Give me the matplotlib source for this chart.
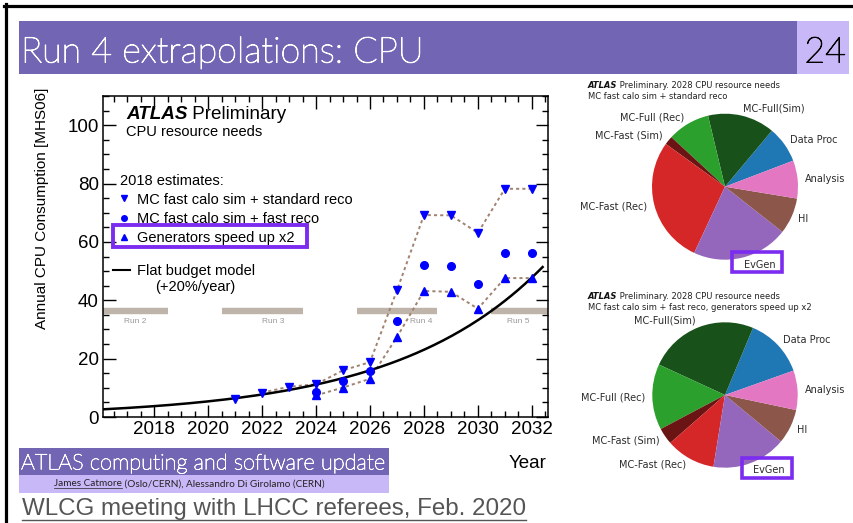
import numpy as np
import matplotlib
matplotlib.use('Agg')
import matplotlib.pyplot as plt
import matplotlib.patheffects as pe
from matplotlib.patches import Rectangle
from matplotlib.lines import Line2D
from matplotlib.ticker import MultipleLocator

# ---- data ----
years_std = [2021, 2022, 2023, 2024, 2025, 2026, 2027, 2028, 2029, 2030, 2031, 2032]
cpu_std = [6.3, 8.3, 10.4, 11.2, 16.0, 18.8, 43.4, 69.2, 69.1, 63.1, 78.2, 78.2]

years_fast = [2024, 2025, 2026, 2027, 2028, 2029, 2030, 2031, 2032]
cpu_fast = [8.7, 12.3, 15.8, 32.8, 52.0, 51.7, 45.7, 56.3, 56.3]

years_gen = [2024, 2025, 2026, 2027, 2028, 2029, 2030, 2031, 2032]
cpu_gen = [7.4, 10.1, 13.1, 27.4, 43.2, 42.9, 37.1, 47.6, 47.6]

# flat budget model: +20%/year, anchored at 2026
budget_ref_year = 2026
budget_ref_value = 16.0
budget_growth = 0.20
budget_range = (2016.1, 2032.4)

runs = ['Run 2', 'Run 3', 'Run 4', 'Run 5']
run_start = [2015.5, 2020.5, 2025.5, 2030.5]
run_end = [2018.5, 2023.5, 2028.5, 2033.5]
run_label_x = [2017.3, 2022.4, 2027.9, 2031.5]

pie_labels = ['Data Proc', 'MC-Full(Sim)', 'MC-Full (Rec)', 'MC-Fast (Sim)',
              'MC-Fast (Rec)', 'EvGen', 'HI', 'Analysis']
pie_colors = ['#1f77b4', '#18521a', '#2ca02c', '#6a1414',
              '#d62728', '#9467bd', '#8c564b', '#e377c2']
shares_std = [8.1, 14.8, 9.4, 1.9, 28.0, 21.3, 8.0, 8.4]
shares_fast = [13.25, 24.4, 14.6, 3.7, 11.0, 16.5, 7.7, 8.75]

# ---- figure / slide ----
W, H = 854, 523
fig = plt.figure(figsize=(W / 100, H / 100), dpi=100)
fig.patch.set_facecolor('white')


def fx(x):
    return x / W


def fy(y):
    return 1 - y / H


def box(x0, y0, x1, y1, **kw):
    r = Rectangle((fx(x0), fy(y1)), (x1 - x0) / W, (y1 - y0) / H,
                  transform=fig.transFigure, **kw)
    fig.add_artist(r)
    return r


purple = '#7266b4'
lavender = '#c9b8f7'
hilite = '#7b2cf0'
# Lato light is a bit thinner than the slide font, so thicken it slightly
thick_w = [pe.withStroke(linewidth=0.7, foreground='white')]
thick_k = [pe.withStroke(linewidth=0.7, foreground='black')]

# slide frame
fig.add_artist(Line2D([fx(4), fx(854)], [fy(5.5), fy(5.5)], color='black', lw=2.3,
                      transform=fig.transFigure))
fig.add_artist(Line2D([fx(6.5), fx(6.5)], [fy(4), fy(523)], color='black', lw=2.3,
                      transform=fig.transFigure))

# title bar
box(19, 21, 797, 74, facecolor=purple, edgecolor='none')
box(797, 21, 849, 74, facecolor=lavender, edgecolor='none')
fig.text(fx(21), fy(62.5), 'Run 4 extrapolations: CPU', color='white', fontsize=25.8,
         family='Lato', fontweight='light', va='baseline', ha='left', path_effects=thick_w)
fig.text(fx(846), fy(62.5), '24', color='black', fontsize=25.8, family='Lato',
         fontweight='light', va='baseline', ha='right', path_effects=thick_k)

# footer
box(19, 448, 389, 475, facecolor=purple, edgecolor='none')
box(19, 475, 389, 492.5, facecolor=lavender, edgecolor='none')
fig.text(fx(21), fy(469.5), 'ATLAS computing and software update', color='white',
         fontsize=15.7, family='Lato', fontweight='light', va='baseline',
         path_effects=[pe.withStroke(linewidth=0.5, foreground='white')])
t_auth = fig.text(fx(54), fy(486.5), 'James Catmore', color='#222222', fontsize=7.2,
                  family='Lato', va='baseline')
t_auth2 = fig.text(0, 0, ' (Oslo/CERN), Alessandro Di Girolamo (CERN)', color='#222222',
                   fontsize=7.2, family='Lato', va='baseline')
t_wlcg = fig.text(fx(22), fy(515), 'WLCG meeting with LHCC referees, Feb. 2020',
                  color='#555555', fontsize=17.4, family='Liberation Sans', va='baseline')

# ---- main ATLAS plot ----
ax = fig.add_axes([fx(103), fy(417), (548 - 103) / W, (417 - 96) / H])
ax.set_xlim(2016.1, 2032.6)
ax.set_ylim(0, 110)

for x0, x1 in zip(run_start, run_end):
    ax.hlines(36.3, x0, x1, color='#beb4aa', lw=4.6, zorder=1)
for name, xl in zip(runs, run_label_x):
    ax.text(xl, 32.7, name, color='#999999', fontsize=6, ha='center', va='center',
            family='Liberation Sans')

xb = np.linspace(budget_range[0], budget_range[1], 200)
yb = budget_ref_value * (1 + budget_growth) ** (xb - budget_ref_year)
ax.plot(xb, yb, color='black', lw=1.8, zorder=3)

dot_col = '#a08270'
i0 = years_std.index(2022)
ax.plot(years_std[i0:], cpu_std[i0:], ls=(0, (1.6, 1.6)), color=dot_col, lw=1.4, zorder=2)
ax.plot(years_gen, cpu_gen, ls=(0, (1.6, 1.6)), color=dot_col, lw=1.4, zorder=2)

ax.plot(years_std, cpu_std, 'v', color='blue', ms=5.5, ls='none', zorder=4)
ax.plot(years_fast, cpu_fast, 'o', color='blue', ms=5.5, ls='none', zorder=4)
ax.plot(years_gen, cpu_gen, '^', color='blue', ms=5.5, ls='none', zorder=4)

ax.set_xticks(range(2018, 2033, 2))
ax.set_yticks(range(0, 101, 20))
ax.xaxis.set_minor_locator(MultipleLocator(0.5))
ax.yaxis.set_minor_locator(MultipleLocator(5))
ax.tick_params(which='both', direction='in', top=True, right=True, width=1)
ax.tick_params(which='major', length=9, labelsize=13.5, pad=3)
ax.tick_params(which='minor', length=4.5)
for lab in ax.get_xticklabels() + ax.get_yticklabels():
    lab.set_family('Liberation Sans')
for s in ax.spines.values():
    s.set_linewidth(1.1)

fig.text(fx(42), fy(208), 'Annual CPU Consumption [MHS06]', rotation=90,
         fontsize=11, family='Liberation Sans', ha='center', va='center')
fig.text(fx(528), fy(463), 'Year', fontsize=13.5, family='Liberation Sans',
         ha='center', va='center')

# in-plot legend
lf = 'Liberation Sans'
t_atl = fig.text(fx(126), fy(119.3), 'ATLAS', fontsize=13.6, family=lf,
                 fontweight='bold', fontstyle='italic', va='baseline')
fig.text(fx(126), fy(136), 'CPU resource needs', fontsize=10.5, family=lf, va='baseline')
fig.text(fx(120), fy(185.2), '2018 estimates:', fontsize=10.5, family=lf, va='baseline')
leg_items = ['MC fast calo sim + standard reco', 'MC fast calo sim + fast reco',
             'Generators speed up x2']
leg_markers = ['v', 'o', '^']
leg_y = [198.3, 217.7, 236.7]
for txt, mk, yy in zip(leg_items, leg_markers, leg_y):
    fig.add_artist(Line2D([fx(124)], [fy(yy)], marker=mk, color='blue', ms=4,
                          ls='none', transform=fig.transFigure))
    fig.text(fx(136.7), fy(yy + 5.2), txt, fontsize=10.5, family=lf, va='baseline')
fig.add_artist(Line2D([fx(113), fx(130)], [fy(270), fy(270)], color='black', lw=1.5,
                      transform=fig.transFigure))
fig.text(fx(136.7), fy(275.2), 'Flat budget model', fontsize=10.5, family=lf, va='baseline')
fig.text(fx(155), fy(291.5), '(+20%/year)', fontsize=10.5, family=lf, va='baseline')
box(112.7, 225, 306.7, 247.3, facecolor='none', edgecolor=hilite, lw=2.8)


# ---- pies ----
def draw_pie(cx, cy, r, shares, start, subtitle, ty, evbox):
    pax = fig.add_axes([fx(cx - r), fy(cy + r), 2 * r / W, 2 * r / H])
    pax.pie(shares, labels=pie_labels, colors=pie_colors,
            startangle=start, counterclock=True,
            wedgeprops=dict(linewidth=0),
            textprops=dict(fontsize=7, color='#2b2b2b'))
    pax.set_xlim(-1, 1)
    pax.set_ylim(-1, 1)
    pax.set_aspect('equal')
    t1 = fig.text(fx(588), fy(ty), 'ATLAS', fontsize=6, fontweight='bold',
                  fontstyle='italic', va='baseline', color='#111111')
    pax.annotate(' Preliminary. 2028 CPU resource needs', xy=(1, 0), xycoords=t1,
                 va='bottom', ha='left', fontsize=6, color='#222222',
                 annotation_clip=False)
    fig.text(fx(588), fy(ty + 10.7), subtitle, fontsize=6, va='baseline', color='#222222')
    box(*evbox, facecolor='none', edgecolor=hilite, lw=2.6)


draw_pie(725, 186.7, 73, shares_std, 20.9, 'MC fast calo sim + standard reco', 88,
         (731.7, 251.7, 781.7, 271.7))
draw_pie(725, 395, 72.7, shares_fast, 19.6,
         'MC fast calo sim + fast reco, generators speed up x2', 299,
         (741.7, 458.3, 791.7, 477.7))

# place chained texts / underlines
fig.canvas.draw()
bb = t_atl.get_window_extent()
fig.text(bb.x1 / W, fy(119.3), ' Preliminary', fontsize=13.6, family=lf, va='baseline')

bb = t_auth.get_window_extent()
t_auth2.set_position((bb.x1 / W, fy(486.5)))
fig.add_artist(Line2D([bb.x0 / W, bb.x1 / W], [fy(488), fy(488)], color='#222222',
                      lw=0.5, transform=fig.transFigure))
bb = t_wlcg.get_window_extent()
fig.add_artist(Line2D([bb.x0 / W, bb.x1 / W], [fy(519.5), fy(519.5)], color='#555555',
                      lw=1.0, transform=fig.transFigure))

fig.savefig('out.png', dpi=100)
